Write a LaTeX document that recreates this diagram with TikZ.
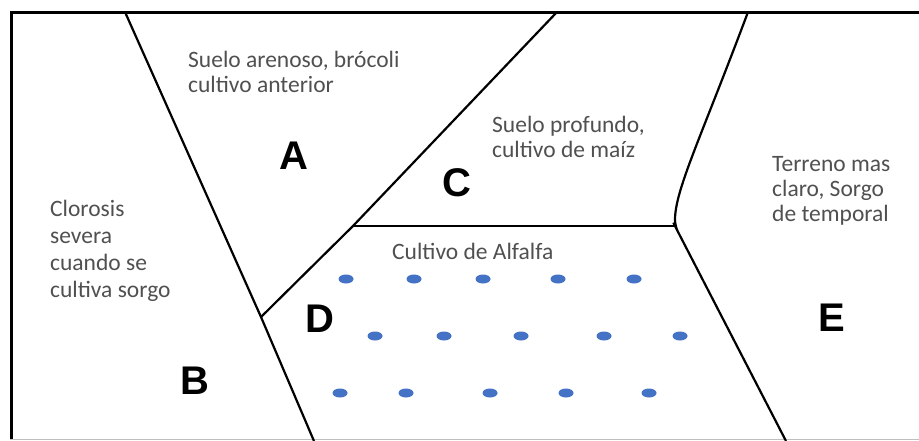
\documentclass[tikz,border=0pt]{standalone}
\usepackage{fontspec}
\setmainfont{Carlito}
\newfontfamily\letterfont{Liberation Sans}
\definecolor{txtgray}{RGB}{80,80,80}
\definecolor{dotblue}{RGB}{68,114,196}
\tikzset{
  label/.style={anchor=base west, inner sep=0pt, align=left, text=txtgray,
    font=\fontsize{23.5}{25.5}\selectfont},
  biglabel/.style={inner sep=0pt, font=\letterfont\bfseries\fontsize{40}{40}\selectfont},
  border/.style={line width=2.2pt, black},
  dot/.style={fill=dotblue, draw=none},
}
\begin{document}
\begin{tikzpicture}[x=1pt, y=-1pt]
\useasboundingbox (0,0) rectangle (919,441);
% frame
\draw[line width=3pt] (11.5,439) -- (11.5,12.5) -- (925,12.5);
\draw[line width=1.5pt, black!25] (10,439.5) -- (925,439.5);
% coordinates
\coordinate (abTop) at (125,12);
\coordinate (J) at (261,317);
\coordinate (abBot) at (314,441);
\coordinate (cdL) at (353,226);
\coordinate (acTop) at (557,12);
\coordinate (cdR) at (675,226);
\coordinate (ceTop) at (748,12);
\coordinate (deBot) at (786,441);
% boundaries
\draw[border] (abTop) -- (J) -- (abBot);
\draw[border] (J) -- (cdL) -- (acTop);
\draw[border] (cdL) -- (cdR);
\draw[border, rounded corners=6pt] (ceTop) .. controls (700,140) and (675,190) .. (cdR) -- (676,228) -- (deBot);
% texts (anchored at the baseline of the last line)
\node[label] (tA) at (188,93) {Suelo arenoso, brócoli\\cultivo anterior};
\node[label] (tC) at (492,158) {Suelo profundo,\\cultivo de maíz};
\node[label] (tE) at (772,222) {Terreno mas\\claro, Sorgo\\de temporal};
\node[label, font=\fontsize{23.5}{27}\selectfont] (tB) at (50,297) {Clorosis\\severa\\cuando se\\cultiva sorgo};
\node[label] (tD) at (392,259) {Cultivo de Alfalfa};
% big letters
\node[biglabel] (A) at (294,156) {A};
\node[biglabel] (B) at (195,381) {B};
\node[biglabel] (C) at (457,183) {C};
\node[biglabel] (D) at (320,319) {D};
\node[biglabel] (E) at (832,318) {E};
% dots
\foreach \x in {346,414,483,558,634} \fill[dot] (\x,279) ellipse [x radius=7.5, y radius=4.5];
\foreach \x in {375,444,521,604,680} \fill[dot] (\x,336) ellipse [x radius=7.5, y radius=4.5];
\foreach \x in {340,406,490,566,649} \fill[dot] (\x,393) ellipse [x radius=7.5, y radius=4.5];
\end{tikzpicture}
\end{document}
